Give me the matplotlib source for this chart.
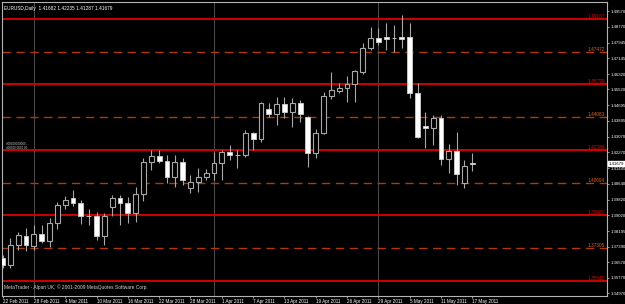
import numpy as np
import matplotlib
matplotlib.use("Agg")
import matplotlib.pyplot as plt
import matplotlib.transforms as mtrans

# EURUSD daily bars, 22 Feb 2011 .. 17 May 2011
opens = [1.36801, 1.36439, 1.37474, 1.37939, 1.37422, 1.38043, 1.37681, 1.38612,
         1.39543, 1.39906, 1.39647, 1.38974, 1.38974, 1.37939, 1.39440, 1.39906,
         1.39647, 1.39129, 1.40112, 1.41768, 1.42079, 1.41820, 1.40992, 1.41768,
         1.40423, 1.40733, 1.40992, 1.41199, 1.41717, 1.42286, 1.42130, 1.42130,
         1.43269, 1.42958, 1.44510, 1.44252, 1.44769, 1.44355, 1.44821, 1.44097,
         1.42234, 1.43269, 1.45183, 1.45442, 1.45597, 1.45804, 1.46425, 1.47667,
         1.48184, 1.48236, 1.48184, 1.48236, 1.48236, 1.45338, 1.43631, 1.43527,
         1.44045, 1.41923, 1.42337, 1.40682, 1.41682]
highs = [1.36956, 1.37836, 1.38146, 1.38353, 1.38509, 1.38509, 1.38871, 1.39699,
         1.40009, 1.40320, 1.39802, 1.39336, 1.39181, 1.39129, 1.40061, 1.40061,
         1.39957, 1.40475, 1.41975, 1.42389, 1.42389, 1.42130, 1.42130, 1.41975,
         1.41095, 1.41458, 1.41406, 1.42286, 1.42389, 1.42648, 1.42389, 1.43424,
         1.43320, 1.44850, 1.44821, 1.45131, 1.45131, 1.45079, 1.44976, 1.44150,
         1.43476, 1.45390, 1.46425, 1.45856, 1.46218, 1.46528, 1.47925, 1.48753,
         1.48701, 1.48960, 1.48857, 1.49374, 1.48960, 1.45856, 1.44355, 1.44200,
         1.44200, 1.42700, 1.43320, 1.41872, 1.42235]
lows = [1.36284, 1.36284, 1.37215, 1.37163, 1.37215, 1.37577, 1.37370, 1.38302,
        1.39336, 1.39492, 1.38560, 1.38509, 1.37732, 1.37474, 1.38974, 1.38509,
        1.38612, 1.38664, 1.39750, 1.41354, 1.41717, 1.40682, 1.40475, 1.40578,
        1.40164, 1.40216, 1.40837, 1.40837, 1.40837, 1.41872, 1.41458, 1.42027,
        1.42389, 1.42803, 1.44097, 1.43683, 1.44045, 1.43579, 1.43838, 1.41510,
        1.41975, 1.43220, 1.45028, 1.45338, 1.44873, 1.44873, 1.46321, 1.47563,
        1.47822, 1.47563, 1.47460, 1.47667, 1.45079, 1.43010, 1.42493, 1.42648,
        1.41613, 1.41199, 1.40578, 1.40423, 1.41287]
closes = [1.36439, 1.37474, 1.37991, 1.37474, 1.38043, 1.37681, 1.38612, 1.39543,
          1.39802, 1.39647, 1.38974, 1.38960, 1.37939, 1.38974, 1.39906, 1.39647,
          1.39129, 1.40112, 1.41768, 1.42079, 1.41820, 1.40992, 1.41768, 1.40837,
          1.40733, 1.40992, 1.41199, 1.41717, 1.42286, 1.42130, 1.42120, 1.43269,
          1.42958, 1.44821, 1.44252, 1.44769, 1.44355, 1.44821, 1.44252, 1.42234,
          1.43269, 1.45183, 1.45493, 1.45597, 1.45804, 1.46476, 1.47667, 1.48184,
          1.47977, 1.48132, 1.48175, 1.48132, 1.45338, 1.43062, 1.43527, 1.44045,
          1.41923, 1.42337, 1.41147, 1.41561, 1.41679]

date_idx = [0, 4, 8, 12, 16, 20, 24, 28, 32, 36, 40, 44, 48, 52, 56, 60]
date_labels = ["22 Feb 2011", "28 Feb 2011", "4 Mar 2011", "10 Mar 2011",
               "16 Mar 2011", "22 Mar 2011", "28 Mar 2011", "1 Apr 2011",
               "7 Apr 2011", "13 Apr 2011", "19 Apr 2011", "26 Apr 2011",
               "29 Apr 2011", "5 May 2011", "11 May 2011", "17 May 2011"]

price_ticks = [1.49570, 1.48770, 1.47945, 1.47145, 1.46320, 1.45520, 1.44695,
               1.43895, 1.43070, 1.42270, 1.41445, 1.40640, 1.39820, 1.39020,
               1.38195, 1.37390, 1.36570, 1.35770, 1.34970]

levels = [1.49167, 1.47472, 1.45778, 1.44083, 1.42389, 1.40694, 1.39000,
          1.37305, 1.35611]
level_solid = [True, False, True, False, True, False, True, False, True]

separators = [4, 27, 48]

title_text = "EURUSD,Daily  1.41682 1.42235 1.41287 1.41679"
footer_text = "MetaTrader - Alpari UK, \u00a9 2001-2009 MetaQuotes Software Corp."
object_text = "#00000000000 ...\n#00000 0000 00"

W, H = 625, 304
fig = plt.figure(figsize=(W / 100, H / 100), dpi=100, facecolor="black")
ax = fig.add_axes([2 / W, 8 / H, 605 / W, 294.5 / H], facecolor="black")

o = np.array(opens)
h = np.array(highs)
l = np.array(lows)
c = np.array(closes)
x = np.arange(len(o))
up = c >= o

red_solid = "#e00000"
red_dash = "#b2380c"
grid_grey = "#b4b4b4"
FONT = "Liberation Sans"
yblend = mtrans.blended_transform_factory(ax.transAxes, ax.transData)

# horizontal levels
for lv, solid in zip(levels, level_solid):
    if solid:
        ax.axhline(lv, color=red_solid, lw=1.3, zorder=1)
    else:
        ax.axhline(lv, color=red_dash, lw=1.0, ls=(0, (6, 4)), zorder=1)
    ax.text(0.996, lv, "%.5f" % lv, transform=yblend,
            ha="right", va="bottom", fontsize=3.4, family=FONT,
            color=red_solid if solid else "#d8641e", zorder=2)

# month separators
for s in separators:
    ax.axvline(s, color="#484848", lw=0.8, zorder=0.5)

# candles
ax.vlines(x, l, h, color="#a8a8a8", lw=0.8, zorder=3)
body_lo = np.minimum(o, c)
body_h = np.maximum(np.abs(c - o), 0.00012)
ax.bar(x[up], body_h[up], bottom=body_lo[up], width=0.62, color="black",
       edgecolor="#a8a8a8", linewidth=0.8, zorder=4)
ax.bar(x[~up], body_h[~up], bottom=body_lo[~up], width=0.62, color="white",
       edgecolor="#d0d0d0", linewidth=0.6, zorder=4)

ax.set_xlim(-0.07, 77.2)
ax.set_ylim(1.34835, 1.50072)

# axes styling
for sp in ax.spines.values():
    sp.set_color(grid_grey)
    sp.set_linewidth(0.8)

ax.yaxis.tick_right()
ax.set_yticks(price_ticks)
ax.set_yticklabels(["%.5f" % v for v in price_ticks])
ax.tick_params(axis="y", colors=grid_grey, labelcolor="white", length=1.5, width=0.6,
               pad=0.8, labelsize=3.1)
ax.set_xticks(date_idx)
ax.set_xticklabels(date_labels, ha="left")
ax.tick_params(axis="x", colors=grid_grey, labelcolor="white", length=1.5, width=0.6,
               pad=0.4, labelsize=3.3)
for t in ax.get_xticklabels() + ax.get_yticklabels():
    t.set_family(FONT)

# current price marker
ax.text(1.003, closes[-1], "%.5f" % closes[-1], transform=yblend,
        ha="left", va="center", fontsize=3.1, family=FONT, color="black",
        bbox=dict(boxstyle="square,pad=0.12", fc="white", ec="white"), zorder=6)

ax.text(0.003, 0.985, title_text, transform=ax.transAxes, ha="left", va="top",
        fontsize=3.4, family=FONT, color="white")
ax.text(0.003, 0.02, footer_text, transform=ax.transAxes, ha="left", va="bottom",
        fontsize=3.5, family=FONT, color="#d0d0d0")
ax.text(0.5, levels[4], object_text, ha="left", va="bottom", fontsize=2.2,
        family=FONT, color="#c8c8c8", linespacing=0.9, zorder=2)

fig.savefig("out.png", dpi=100, facecolor="black")
